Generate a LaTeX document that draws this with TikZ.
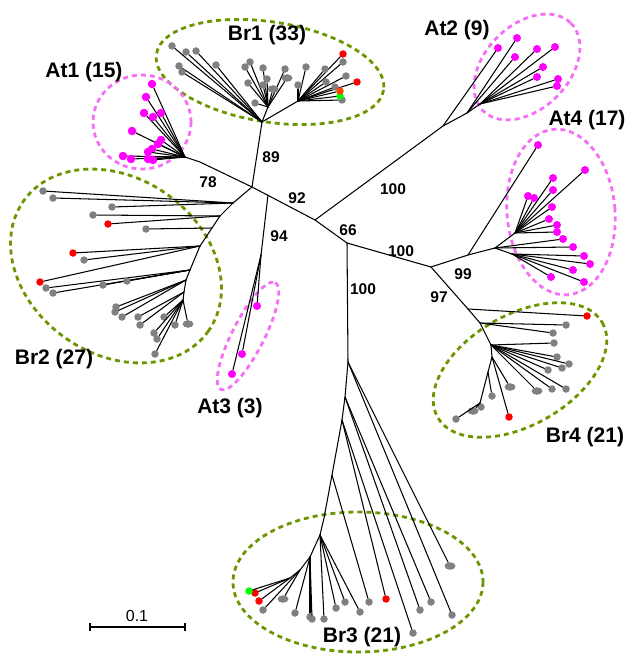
\documentclass[tikz,border=0pt]{standalone}
\usepackage{fontspec}
\setmainfont{Liberation Sans}
\usetikzlibrary{shapes.geometric}
\definecolor{mag}{RGB}{255,0,255}
\definecolor{gry}{RGB}{128,128,128}
\definecolor{rd}{RGB}{255,0,0}
\definecolor{grn}{RGB}{0,255,0}
\definecolor{org}{RGB}{255,69,0}
\definecolor{dgreen}{RGB}{108,150,0}
\definecolor{dpink}{RGB}{245,110,245}
\begin{document}
\begin{tikzpicture}[x=1pt,y=-1pt,
  br/.style={line width=1.05pt, line cap=round},
  dot/.style={circle, inner sep=0pt, minimum size=7.5pt},
  oval/.style={ellipse, inner sep=0pt, minimum width=11pt, minimum height=7.5pt},
  grp/.style={font=\fontsize{21}{21}\selectfont\bfseries},
  bs/.style={font=\fontsize{15.5}{15.5}\selectfont\bfseries},
  gdash/.style={draw=dgreen, line width=2.8pt, dash pattern=on 5pt off 4pt},
  pdash/.style={draw=dpink, line width=2.8pt, dash pattern=on 5pt off 4pt}]
\useasboundingbox (0,0) rectangle (631,655);

% ---------- cluster outlines ----------
\draw[gdash, rotate around={-9:(270,72)}] (270,72) ellipse [x radius=115, y radius=50];
\draw[pdash] (142,122) ellipse [x radius=49, y radius=47];
\draw[gdash, rotate around={-35:(116,266)}] (116,266) ellipse [x radius=113, y radius=88];
\draw[pdash, rotate around={45:(527,67)}] (527,67) ellipse [x radius=62, y radius=42];
\draw[pdash, rotate around={5:(561,212)}] (561,212) ellipse [x radius=54, y radius=83];
\draw[gdash, rotate around={30:(520,370)}] (520,370) ellipse [x radius=95, y radius=55];
\draw[gdash] (358,582) ellipse [x radius=125, y radius=70];
\draw[pdash, rotate around={63:(248,336)}] (248,336) ellipse [x radius=60, y radius=16];

% ---------- internal nodes ----------
\coordinate (C) at (252,187);
\coordinate (A) at (315,220);
\coordinate (B) at (347,243);
\coordinate (D) at (431,267);
\coordinate (P78) at (200,162);
\coordinate (At1n) at (185,157);
\coordinate (Br1b) at (262,122);
\coordinate (Br1m) at (268,107);
\coordinate (Br1r) at (298,101);
\coordinate (n1) at (233,203);
\coordinate (n2) at (220,216);
\coordinate (n3) at (212,228);
\coordinate (n4) at (200,246);
\coordinate (n5) at (190,270);
\coordinate (n6) at (186,280);
\coordinate (n7) at (184,292);
\coordinate (n8) at (183,300);
\coordinate (At3s) at (268,195);
\coordinate (At3n) at (261,255);
\coordinate (At2a) at (443,126);
\coordinate (At2b) at (467,113);
\coordinate (At2c) at (480,104);
\coordinate (At4a) at (468,255);
\coordinate (At4b) at (495,248);
\coordinate (At4c) at (515,233);
\coordinate (At4e) at (512,254);
\coordinate (Br4a) at (468,309);
\coordinate (Br4b) at (480,323);
\coordinate (Br4c) at (491,345);
\coordinate (Br4d) at (492,357);
\coordinate (Br4e) at (488,372);
\coordinate (Br4f) at (480,403);
\coordinate (Br3a) at (348,362);
\coordinate (Br3b) at (345,397);
\coordinate (Br3c) at (342,420);
\coordinate (Br3d) at (332,475);
\coordinate (Br3e) at (324,518);
\coordinate (Br3f) at (320,535);
\coordinate (Br3g) at (310,557);
\coordinate (Br3h) at (300,570);
\coordinate (Br3i) at (290,578);

% ---------- backbone ----------
\draw[br] (C) -- (A) -- (B) -- (D);
\draw[br] (C) -- (P78) -- (At1n);
\draw[br] (C) -- (Br1b) -- (Br1m);
\draw[br] (Br1b) -- (Br1r);
\draw[br] (C) -- (n1) -- (n2) -- (n3) -- (n4) -- (n5) -- (n6) -- (n7) -- (n8);
\draw[br] (At3s) -- (At3n);
\draw[br] (A) -- (At2a) -- (At2b) -- (At2c);
\draw[br] (D) -- (At4a) -- (At4b) -- (At4c);
\draw[br] (At4b) -- (At4e);
\draw[br] (D) -- (Br4a) -- (Br4b) -- (Br4c) -- (Br4d) -- (Br4e) -- (Br4f);
\draw[br] (B) -- (Br3a) -- (Br3b) -- (Br3c) -- (Br3d) -- (Br3e) -- (Br3f) -- (Br3g) -- (Br3h) -- (Br3i);

% ---------- leaves ----------
% Br1
\foreach \x/\y/\q/\c/\s [count=\i] in {
  172/46/Br1b/gry/dot, 186/52/Br1b/gry/dot, 196/51/Br1b/gry/dot, 179/66/Br1b/gry/dot, 182/72/Br1b/gry/dot, 216/65/Br1b/gry/dot,
  250/62/Br1m/gry/dot, 245/67/Br1m/gry/dot, 263/68/Br1m/gry/dot, 267/79/Br1m/gry/dot, 285/69/Br1m/gry/dot, 287/78/Br1m/gry/oval,
  248/83/Br1m/gry/dot, 263/85/Br1m/gry/dot, 273/89/Br1m/gry/oval, 255/103/Br1m/gry/dot,
  343/54/Br1r/rd/dot, 343/62/Br1r/gry/dot, 306/67/Br1r/gry/dot, 325/69/Br1r/gry/dot, 346/76/Br1r/gry/dot, 357/82/Br1r/rd/dot,
  326/82/Br1r/gry/dot, 335/87/Br1r/gry/dot, 298/85/Br1r/gry/dot, 342/100/Br1r/gry/dot, 340/96/Br1r/grn/dot, 340/91/Br1r/org/dot}
  {\node[\s, fill=\c] (ba\i) at (\x,\y) {}; \draw[br] (\q) -- (ba\i);}
% At1
\foreach \x/\y [count=\i] in {152/84, 146/97, 144/113, 153/117, 161/113, 132/131, 161/140,
  158/144, 152/149, 148/152, 123/156, 131/159, 148/159, 153/160}
  {\node[dot, fill=mag, minimum size=8.5pt] (aa\i) at (\x,\y) {}; \draw[br] (At1n) -- (aa\i);}
% Br2
\foreach \x/\y/\q/\c/\s [count=\i] in {
  43/191/n1/gry/dot, 53/198/n1/gry/dot, 112/207/n1/gry/dot, 93/215/n2/gry/dot, 108/224/n2/rd/dot, 146/229/n3/gry/dot,
  73/253/n4/rd/dot, 84/260/n4/gry/dot, 40/282/n4/rd/dot, 46/288/n5/gry/dot, 53/293/n5/gry/dot, 103/285/n5/gry/dot,
  127/281/n5/gry/dot, 116/307/n6/gry/dot, 115/312/n6/gry/dot, 122/317/n6/gry/dot, 138/317/n7/gry/dot, 140/325/n7/gry/dot,
  164/317/n8/gry/dot, 175/325/n8/gry/dot, 188/324/n8/gry/oval, 154/333/n8/gry/dot, 157/339/n8/gry/dot, 155/354/n8/gry/dot}
  {\node[\s, fill=\c] (bb\i) at (\x,\y) {}; \draw[br] (\q) -- (bb\i);}
% At3
\foreach \x/\y [count=\i] in {257/306, 242/354, 232/374}
  {\node[dot, fill=mag, minimum size=8pt] (ac\i) at (\x,\y) {}; \draw[br] (At3n) -- (ac\i);}
% At2
\foreach \x/\y/\q [count=\i] in {498/48/At2a, 517/38/At2b, 515/57/At2b, 537/49/At2c, 555/47/At2c,
  543/67/At2c, 537/77/At2c, 558/79/At2c, 557/86/At2c}
  {\node[dot, fill=mag, minimum size=8pt] (ab\i) at (\x,\y) {}; \draw[br] (\q) -- (ab\i);}
% At4
\foreach \x/\y/\q [count=\i] in {538/145/At4a, 585/170/At4c, 553/178/At4c, 553/190/At4c, 528/196/At4c,
  534/198/At4c, 552/207/At4c, 549/219/At4c, 557/225/At4c, 557/232/At4c, 563/239/At4b, 573/247/At4b,
  584/256/At4e, 590/264/At4e, 573/270/At4e, 584/282/At4e, 551/277/At4e}
  {\node[dot, fill=mag, minimum size=8pt] (ad\i) at (\x,\y) {}; \draw[br] (\q) -- (ad\i);}
% Br4
\foreach \x/\y/\q/\c/\s [count=\i] in {
  587/316/Br4a/rd/dot, 566/325/Br4b/gry/dot, 553/333/Br4b/gry/dot, 554/343/Br4c/gry/dot, 557/357/Br4c/gry/dot,
  569/364/Br4c/gry/dot, 548/370/Br4c/gry/dot, 562/368/Br4c/gry/dot, 566/389/Br4c/gry/dot, 552/389/Br4c/gry/dot,
  537/391/Br4c/gry/oval, 510/387/Br4d/gry/oval, 509/417/Br4d/rd/dot, 492/396/Br4e/gry/dot, 481/407/Br4f/gry/dot,
  473/411/Br4f/gry/oval, 456/419/Br4f/gry/dot}
  {\node[\s, fill=\c] (bd\i) at (\x,\y) {}; \draw[br] (\q) -- (bd\i);}
% Br3
\foreach \x/\y/\q/\c/\s [count=\i] in {
  450/566/Br3a/gry/oval, 452/615/Br3a/gry/dot, 431/602/Br3b/gry/dot, 420/610/Br3b/gry/dot, 413/633/Br3c/gry/dot,
  386/599/Br3c/rd/dot, 369/602/Br3d/gry/dot, 345/602/Br3f/gry/dot, 336/608/Br3f/gry/dot, 360/612/Br3f/gry/dot,
  324/619/Br3f/gry/dot, 310/617/Br3g/gry/dot, 312/619/Br3g/gry/dot, 295/613/Br3g/gry/dot, 283/599/Br3h/gry/oval,
  263/610/Br3h/gry/dot, 259/601/Br3i/rd/dot, 255/593/Br3i/rd/dot, 249/591/Br3i/grn/dot}
  {\node[\s, fill=\c] (bc\i) at (\x,\y) {}; \draw[br] (\q) -- (bc\i);}

% ---------- group labels ----------
\node[grp] (lBr1) at (267,35) {Br1 (33)};
\node[grp] (lAt1) at (84,72) {At1 (15)};
\node[grp] (lAt2) at (457,30) {At2 (9)};
\node[grp] (lAt4) at (587,120) {At4 (17)};
\node[grp] (lBr2) at (54,359) {Br2 (27)};
\node[grp] (lAt3) at (230,408) {At3 (3)};
\node[grp] (lBr4) at (585,437) {Br4 (21)};
\node[grp] (lBr3) at (362,637) {Br3 (21)};

% ---------- bootstrap values ----------
\node[bs] (b89) at (271,157) {89};
\node[bs] (b78) at (208,182) {78};
\node[bs] (b92) at (297,198) {92};
\node[bs] (b94) at (279,236) {94};
\node[bs] (b66) at (348,230) {66};
\node[bs] (b100a) at (393,189) {100};
\node[bs] (b100b) at (401,251) {100};
\node[bs] (b100c) at (363,289) {100};
\node[bs] (b97) at (439,297) {97};
\node[bs] (b99) at (463,274) {99};

% ---------- scale bar ----------
\coordinate (s1) at (90,627);
\coordinate (s2) at (185,627);
\draw[line width=1.6pt] (s1) -- (s2);
\draw[line width=1.6pt] (s1) ++(0,-4) -- ++(0,8);
\draw[line width=1.6pt] (s2) ++(0,-4) -- ++(0,8);
\node[font=\fontsize{16}{16}\selectfont] (sl) at (137,616) {0.1};
\end{tikzpicture}
\end{document}
